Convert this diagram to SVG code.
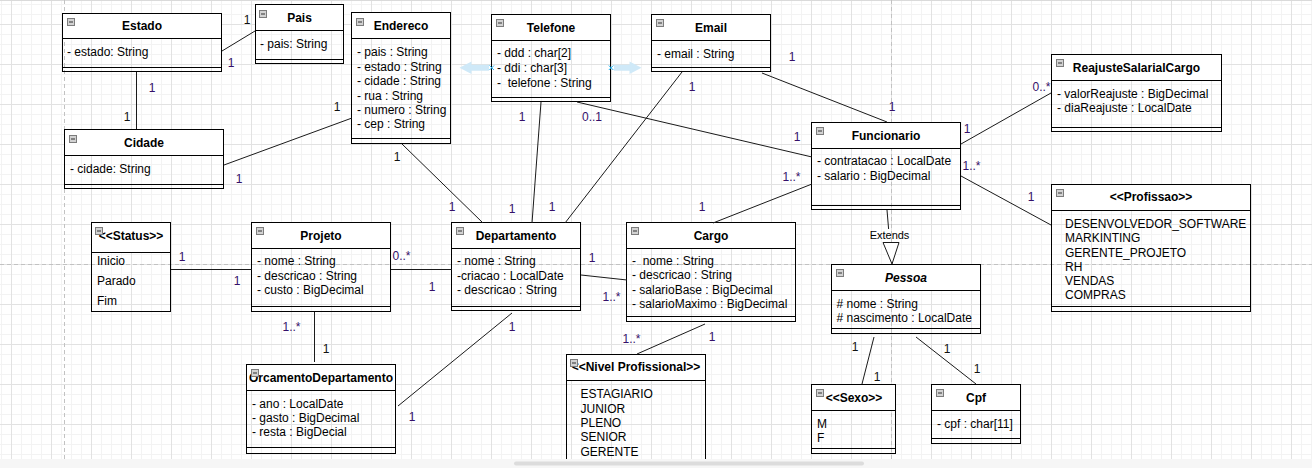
<svg xmlns="http://www.w3.org/2000/svg" xmlns:xlink="http://www.w3.org/1999/xlink" width="1312" height="468" viewBox="0 0 1312 468">
<style>
.hd{fill:#fff;stroke:none}
.bx{fill:none;stroke:#000;stroke-width:1}
.sp{stroke:#000;stroke-width:1}
.t{font-family:"Liberation Sans",Arial,sans-serif;font-size:12px;font-weight:bold;text-anchor:middle;fill:#000}
.a{font-family:"Liberation Sans",Arial,sans-serif;font-size:12px;fill:#000;white-space:pre}
.m{font-family:"Liberation Sans",Arial,sans-serif;font-size:12px;fill:#35106a;text-anchor:middle}
.mk{fill:#111}
.e{stroke:#1a1a1a;stroke-width:1;fill:none}
.pb{stroke:#c2c2c2;stroke-width:1;stroke-dasharray:4 3}
.hov{fill:#cfe9f8}
.hx{stroke:#29b6f2;stroke-width:1}
</style>
<defs>
<pattern id="grid" width="40" height="40" patternUnits="userSpaceOnUse" x="11" y="24">
<path d="M10.5 0V40M20.5 0V40M30.5 0V40M0 10.5H40M0 20.5H40M0 30.5H40" stroke="#f3f3f3" stroke-width="1"/>
<path d="M0.5 0V40M0 0.5H40" stroke="#e2e2e2" stroke-width="1"/>
</pattern>
<g id="ico"><rect x="0.5" y="0.5" width="7" height="7" fill="#d2d2d2" stroke="#7c7c7c"/><line x1="2" y1="4" x2="6" y2="4" stroke="#333"/></g>
</defs>
<rect width="1312" height="468" fill="#fff"/>
<rect width="1312" height="468" fill="url(#grid)"/>
<line x1="0" y1="0.5" x2="1312" y2="0.5" stroke="#dadada"/>
<g id="pagebreaks">
<line class="pb" x1="64.5" y1="0" x2="64.5" y2="459"/>
<line class="pb" x1="891.5" y1="0" x2="891.5" y2="459"/>
<line class="pb" x1="0" y1="264.5" x2="1312" y2="264.5"/>
</g>

<g id="estado">
<rect class="hd" x="62.5" y="13.5" width="159" height="25"/>
<rect class="bx" x="62.5" y="13.5" width="159" height="58"/>
<line class="sp" x1="62.5" y1="38.5" x2="221.5" y2="38.5"/>
<line class="sp" x1="62.5" y1="67.5" x2="221.5" y2="67.5"/>
<use xlink:href="#ico" x="67" y="18"/>
<text class="t" x="142" y="30">Estado</text>
<text class="a" x="67" y="56">- estado: String</text>
</g>

<g id="pais">
<rect class="hd" x="255.5" y="4.5" width="88" height="26"/>
<rect class="bx" x="255.5" y="4.5" width="88" height="59"/>
<line class="sp" x1="255.5" y1="30.5" x2="343.5" y2="30.5"/>
<line class="sp" x1="255.5" y1="59.5" x2="343.5" y2="59.5"/>
<use xlink:href="#ico" x="259" y="10"/>
<text class="t" x="299.5" y="22">Pais</text>
<text class="a" x="260" y="47.5">- pais: String</text>
</g>

<g id="endereco">
<rect class="hd" x="351.5" y="12.5" width="99" height="26"/>
<rect class="bx" x="351.5" y="12.5" width="99" height="131"/>
<line class="sp" x1="351.5" y1="38.5" x2="450.5" y2="38.5"/>
<line class="sp" x1="351.5" y1="138.5" x2="450.5" y2="138.5"/>
<use xlink:href="#ico" x="356" y="18"/>
<text class="t" x="401" y="30">Endereco</text>
<text class="a" x="357" y="56">- pais : String</text>
<text class="a" x="357" y="70.5">- estado : String</text>
<text class="a" x="357" y="85">- cidade : String</text>
<text class="a" x="357" y="99.5">- rua : String</text>
<text class="a" x="357" y="114">- numero : String</text>
<text class="a" x="357" y="128">- cep : String</text>
</g>

<g id="telefone">
<rect class="hd" x="491.5" y="14.5" width="119" height="26"/>
<rect class="bx" x="491.5" y="14.5" width="119" height="87"/>
<line class="sp" x1="491.5" y1="40.5" x2="610.5" y2="40.5"/>
<line class="sp" x1="491.5" y1="97.5" x2="610.5" y2="97.5"/>
<use xlink:href="#ico" x="496" y="19"/>
<text class="t" x="551" y="32">Telefone</text>
<text class="a" x="497" y="57">- ddd : char[2]</text>
<text class="a" x="497" y="72">- ddi : char[3]</text>
<text class="a" x="497" y="87">-  telefone : String</text>
</g>

<g id="email">
<rect class="hd" x="651.5" y="14.5" width="119" height="26"/>
<rect class="bx" x="651.5" y="14.5" width="119" height="57"/>
<line class="sp" x1="651.5" y1="40.5" x2="770.5" y2="40.5"/>
<line class="sp" x1="651.5" y1="67.5" x2="770.5" y2="67.5"/>
<use xlink:href="#ico" x="656" y="19"/>
<text class="t" x="711" y="32">Email</text>
<text class="a" x="657" y="57.5">- email : String</text>
</g>

<g id="funcionario">
<rect class="hd" x="811.5" y="122.5" width="149" height="26"/>
<rect class="bx" x="811.5" y="122.5" width="149" height="87"/>
<line class="sp" x1="811.5" y1="148.5" x2="960.5" y2="148.5"/>
<line class="sp" x1="811.5" y1="205.5" x2="960.5" y2="205.5"/>
<use xlink:href="#ico" x="816" y="127"/>
<text class="t" x="886" y="139.5">Funcionario</text>
<text class="a" x="817" y="165">- contratacao : LocalDate</text>
<text class="a" x="817" y="179.5">- salario : BigDecimal</text>
</g>

<g id="reajuste">
<rect class="hd" x="1051.5" y="54.5" width="170" height="26"/>
<rect class="bx" x="1051.5" y="54.5" width="170" height="77"/>
<line class="sp" x1="1051.5" y1="80.5" x2="1221.5" y2="80.5"/>
<line class="sp" x1="1051.5" y1="127.5" x2="1221.5" y2="127.5"/>
<use xlink:href="#ico" x="1056" y="59"/>
<text class="t" x="1136.5" y="72">ReajusteSalarialCargo</text>
<text class="a" x="1057" y="97.5">- valorReajuste : BigDecimal</text>
<text class="a" x="1057" y="112">- diaReajuste : LocalDate</text>
</g>

<g id="cidade">
<rect class="hd" x="64.5" y="129.5" width="159" height="26"/>
<rect class="bx" x="64.5" y="129.5" width="159" height="59"/>
<line class="sp" x1="64.5" y1="155.5" x2="223.5" y2="155.5"/>
<line class="sp" x1="64.5" y1="184.5" x2="223.5" y2="184.5"/>
<use xlink:href="#ico" x="69" y="135"/>
<text class="t" x="144" y="147">Cidade</text>
<text class="a" x="70" y="172.5">- cidade: String</text>
</g>

<g id="status">
<rect class="hd" x="91.5" y="222.5" width="79" height="30"/>
<rect class="bx" x="91.5" y="222.5" width="79" height="89"/>
<line class="sp" x1="91.5" y1="252.5" x2="170.5" y2="252.5"/>
<text class="t" x="131" y="240">&lt;&lt;Status&gt;&gt;</text>
<use xlink:href="#ico" x="95" y="227"/>
<text class="a" x="97" y="265">Inicio</text>
<text class="a" x="97" y="285">Parado</text>
<text class="a" x="97" y="305">Fim</text>
</g>

<g id="projeto">
<rect class="hd" x="251.5" y="222.5" width="139" height="26"/>
<rect class="bx" x="251.5" y="222.5" width="139" height="89"/>
<line class="sp" x1="251.5" y1="248.5" x2="390.5" y2="248.5"/>
<line class="sp" x1="251.5" y1="306.5" x2="390.5" y2="306.5"/>
<use xlink:href="#ico" x="256" y="227"/>
<text class="t" x="321" y="240">Projeto</text>
<text class="a" x="257" y="265">- nome : String</text>
<text class="a" x="257" y="279.5">- descricao : String</text>
<text class="a" x="257" y="294">- custo : BigDecimal</text>
</g>

<g id="departamento">
<rect class="hd" x="451.5" y="222.5" width="129" height="26"/>
<rect class="bx" x="451.5" y="222.5" width="129" height="88"/>
<line class="sp" x1="451.5" y1="248.5" x2="580.5" y2="248.5"/>
<line class="sp" x1="451.5" y1="306.5" x2="580.5" y2="306.5"/>
<use xlink:href="#ico" x="456" y="227"/>
<text class="t" x="516" y="240">Departamento</text>
<text class="a" x="457" y="265">- nome : String</text>
<text class="a" x="457" y="279.5">-criacao : LocalDate</text>
<text class="a" x="457" y="294">- descricao : String</text>
</g>

<g id="cargo">
<rect class="hd" x="626.5" y="222.5" width="169" height="26"/>
<rect class="bx" x="626.5" y="222.5" width="169" height="99"/>
<line class="sp" x1="626.5" y1="248.5" x2="795.5" y2="248.5"/>
<line class="sp" x1="626.5" y1="316.5" x2="795.5" y2="316.5"/>
<use xlink:href="#ico" x="631" y="227"/>
<text class="t" x="711" y="240">Cargo</text>
<text class="a" x="632" y="265">-  nome : String</text>
<text class="a" x="632" y="279">- descricao : String</text>
<text class="a" x="632" y="294">- salarioBase : BigDecimal</text>
<text class="a" x="632" y="308">- salarioMaximo : BigDecimal</text>
</g>

<g id="pessoa">
<rect class="hd" x="831.5" y="264.5" width="149" height="26"/>
<rect class="bx" x="831.5" y="264.5" width="149" height="69"/>
<line class="sp" x1="831.5" y1="290.5" x2="980.5" y2="290.5"/>
<line class="sp" x1="831.5" y1="328.5" x2="980.5" y2="328.5"/>
<use xlink:href="#ico" x="836" y="269"/>
<text class="t" x="906" y="282" font-style="italic">Pessoa</text>
<text class="a" x="836.5" y="307.5"># nome : String</text>
<text class="a" x="836.5" y="322"># nascimento : LocalDate</text>
</g>

<g id="profissao">
<rect class="hd" x="1051.5" y="184.5" width="199" height="26"/>
<rect class="bx" x="1051.5" y="184.5" width="199" height="127"/>
<line class="sp" x1="1051.5" y1="210.5" x2="1250.5" y2="210.5"/>
<line class="sp" x1="1051.5" y1="306.5" x2="1250.5" y2="306.5"/>
<use xlink:href="#ico" x="1056" y="189"/>
<text class="t" x="1151" y="201">&lt;&lt;Profissao&gt;&gt;</text>
<text class="a" x="1065" y="228">DESENVOLVEDOR_SOFTWARE</text>
<text class="a" x="1065" y="242">MARKINTING</text>
<text class="a" x="1065" y="256.5">GERENTE_PROJETO</text>
<text class="a" x="1065" y="270.5">RH</text>
<text class="a" x="1065" y="285">VENDAS</text>
<text class="a" x="1065" y="299">COMPRAS</text>
</g>

<g id="orcamento">
<rect class="hd" x="246.5" y="364.5" width="149" height="26"/>
<rect class="bx" x="246.5" y="364.5" width="149" height="89"/>
<line class="sp" x1="246.5" y1="390.5" x2="395.5" y2="390.5"/>
<line class="sp" x1="246.5" y1="447.5" x2="395.5" y2="447.5"/>
<text class="t" x="321" y="381.5">OrcamentoDepartamento</text>
<use xlink:href="#ico" x="251" y="369"/>
<text class="a" x="252" y="407.5">- ano : LocalDate</text>
<text class="a" x="252" y="421.5">- gasto : BigDecimal</text>
<text class="a" x="252" y="436">- resta : BigDecial</text>
</g>

<g id="nivel">
<rect class="hd" x="566.5" y="354.5" width="139" height="26"/>
<rect class="bx" x="566.5" y="354.5" width="139" height="130"/>
<line class="sp" x1="566.5" y1="380.5" x2="705.5" y2="380.5"/>
<text class="t" x="636" y="371">&lt;&lt;Nivel Profissional&gt;&gt;</text>
<use xlink:href="#ico" x="570" y="359"/>
<text class="a" x="580.5" y="398">ESTAGIARIO</text>
<text class="a" x="580.5" y="412.5">JUNIOR</text>
<text class="a" x="580.5" y="427">PLENO</text>
<text class="a" x="580.5" y="441">SENIOR</text>
<text class="a" x="580.5" y="455.5">GERENTE</text>
</g>

<g id="sexo">
<rect class="hd" x="811.5" y="384.5" width="84" height="26"/>
<rect class="bx" x="811.5" y="384.5" width="84" height="69"/>
<line class="sp" x1="811.5" y1="410.5" x2="895.5" y2="410.5"/>
<line class="sp" x1="811.5" y1="448.5" x2="895.5" y2="448.5"/>
<text class="t" x="854" y="402">&lt;&lt;Sexo&gt;&gt;</text>
<use xlink:href="#ico" x="816" y="389"/>
<text class="a" x="817" y="428">M</text>
<text class="a" x="817" y="441.5">F</text>
</g>

<g id="cpf">
<rect class="hd" x="931.5" y="384.5" width="89" height="26"/>
<rect class="bx" x="931.5" y="384.5" width="89" height="59"/>
<line class="sp" x1="931.5" y1="410.5" x2="1020.5" y2="410.5"/>
<line class="sp" x1="931.5" y1="438.5" x2="1020.5" y2="438.5"/>
<use xlink:href="#ico" x="936" y="389"/>
<text class="t" x="976" y="402">Cpf</text>
<text class="a" x="937" y="428">- cpf : char[11]</text>
</g>

<g id="connectors">
<line class="e" x1="222" y1="51" x2="255" y2="31"/>
<line class="e" x1="136.5" y1="72" x2="136.5" y2="129"/>
<line class="e" x1="224" y1="165" x2="352" y2="118"/>
<line class="e" x1="402" y1="144" x2="483" y2="223"/>
<line class="e" x1="541" y1="102" x2="532" y2="223"/>
<line class="e" x1="577" y1="102" x2="812" y2="157"/>
<line class="e" x1="682" y1="72" x2="565" y2="223"/>
<line class="e" x1="762" y1="73" x2="887" y2="122"/>
<line class="e" x1="961" y1="144" x2="1051" y2="93"/>
<line class="e" x1="961" y1="176" x2="1051" y2="225"/>
<line class="e" x1="812" y1="184" x2="713" y2="223"/>
<line class="e" x1="887" y1="210" x2="888.6" y2="229"/>
<polygon points="883,242.5 899,242.5 892,264" fill="#fff" stroke="#1a1a1a" stroke-width="1"/>
<text x="889.5" y="238.5" font-family="'Liberation Sans',Arial,sans-serif" font-size="11px" text-anchor="middle" fill="#000">Extends</text>
<line class="e" x1="171" y1="269.5" x2="252" y2="269.5"/>
<line class="e" x1="391" y1="269.5" x2="452" y2="269.5"/>
<line class="e" x1="581" y1="275" x2="627" y2="280"/>
<line class="e" x1="314.5" y1="312" x2="314.5" y2="362"/>
<line class="e" x1="512" y1="313" x2="398" y2="406"/>
<line class="e" x1="705" y1="324" x2="637" y2="354"/>
<line class="e" x1="874" y1="337" x2="862" y2="384"/>
<line class="e" x1="916" y1="337" x2="976" y2="384"/>
<g id="telefone-hover">
<path class="hov" d="M459.5 67.8L471.5 61.5V64.8H489V70.8H471.5V74Z"/>
<path class="hov" d="M641.5 67.8L629.5 61.5V64.8H614V70.8H629.5V74Z"/>
<path class="hx" d="M489.5 65.5L494 70M494 65.5L489.5 70M608.8 65.5L613.3 70M613.3 65.5L608.8 70"/>
</g>
</g>

<g id="multiplicities">
<text class="m mk" x="247" y="23.5">1</text>
<text class="m" x="231" y="67">1</text>
<text class="m" x="152" y="92">1</text>
<text class="m mk" x="127" y="121">1</text>
<text class="m mk" x="337" y="111">1</text>
<text class="m" x="239" y="183">1</text>
<text class="m mk" x="397" y="161">1</text>
<text class="m" x="452" y="211">1</text>
<text class="m" x="522" y="121">1</text>
<text class="m" x="512" y="213">1</text>
<text class="m" x="592" y="121">0..1</text>
<text class="m" x="797" y="141">1</text>
<text class="m" x="692" y="91">1</text>
<text class="m" x="552" y="211">1</text>
<text class="m" x="792" y="61">1</text>
<text class="m" x="892" y="111">1</text>
<text class="m" x="967" y="133">1</text>
<text class="m" x="1041.5" y="91">0..*</text>
<text class="m" x="971.5" y="170">1..*</text>
<text class="m" x="1031" y="201">1</text>
<text class="m" x="791.5" y="181">1..*</text>
<text class="m" x="702" y="211">1</text>
<text class="m" x="182" y="261">1</text>
<text class="m" x="237" y="284.5">1</text>
<text class="m" x="401.5" y="260">0..*</text>
<text class="m" x="432" y="291">1</text>
<text class="m" x="592" y="262">1</text>
<text class="m" x="611.5" y="301">1..*</text>
<text class="m" x="291.5" y="331">1..*</text>
<text class="m mk" x="326" y="353">1</text>
<text class="m" x="512" y="331">1</text>
<text class="m" x="412" y="421">1</text>
<text class="m" x="712" y="341">1</text>
<text class="m" x="631.5" y="343">1..*</text>
<text class="m mk" x="855" y="351">1</text>
<text class="m mk" x="877" y="381">1</text>
<text class="m mk" x="947" y="353">1</text>
<text class="m mk" x="977" y="373">1</text>
</g>

<rect x="0" y="459" width="1312" height="9" fill="#f6f6f6"/>
<rect x="514" y="461.5" width="350" height="4" rx="2" fill="#dcdcdc"/>
</svg>
